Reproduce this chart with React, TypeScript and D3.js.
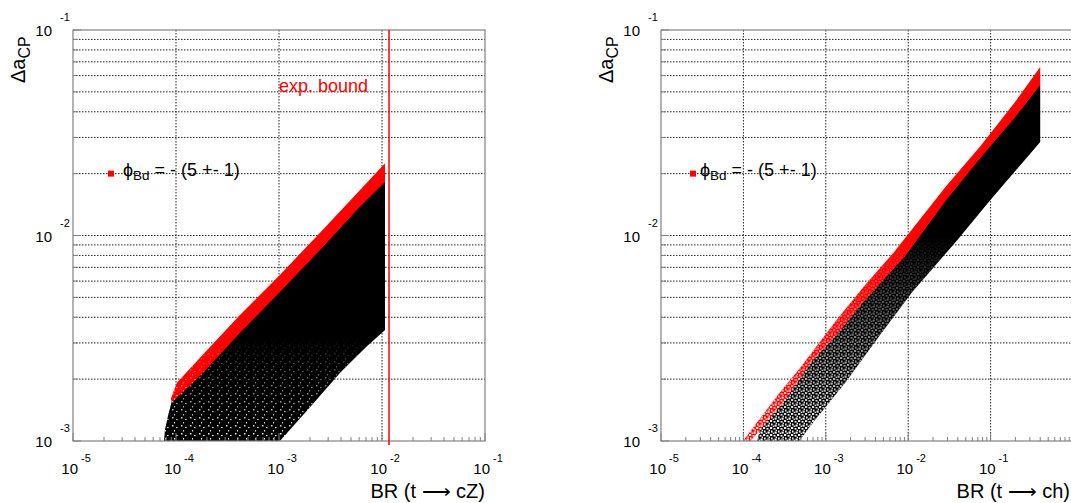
import React from 'react';
import * as d3 from 'd3';

type Pt = [number, number];

const W = 1071;
const H = 503;
const FONT = '"Liberation Sans", Arial, Helvetica, sans-serif';

// axis ranges
const Y_DOMAIN: Pt = [1e-3, 1e-1];
const LEFT_X_DOMAIN: Pt = [1e-5, 1e-1];
const RIGHT_X_DOMAIN: Pt = [1e-5, 1];

// t -> cZ : experimental bound on BR
const EXP_BOUND_CZ = 1.17e-2;
const EXP_LABEL_POS: Pt = [1e-3, 5e-2];

const LEGEND_SYMBOL = 'ϕ';
const LEGEND_SUB = 'Bd';
const LEGEND_REST = ' = - (5 +- 1)';

// envelopes: [BR, ΔaCP]
const LEFT_BLACK: Pt[] = [
  [7.65e-5, 1.0e-3], [7.8e-5, 1.13e-3], [8.4e-5, 1.34e-3], [9.15e-5, 1.58e-3],
  [1.71e-4, 2.12e-3], [4.18e-4, 3.45e-3], [1.02e-3, 5.45e-3], [2.5e-3, 8.7e-3],
  [6.1e-3, 1.42e-2], [1.07e-2, 1.87e-2], [1.07e-2, 3.47e-3], [7.0e-3, 2.87e-3],
  [3.9e-3, 2.14e-3], [2.0e-3, 1.46e-3], [1.02e-3, 1.0e-3],
];
const LEFT_RED_UPPER: Pt[] = [
  [8.9e-5, 1.6e-3], [1.02e-4, 1.92e-3], [1.71e-4, 2.54e-3], [4.18e-4, 4.1e-3],
  [1.02e-3, 6.43e-3], [2.5e-3, 1.03e-2], [6.1e-3, 1.66e-2], [1.07e-2, 2.25e-2],
];
const LEFT_RED_LOWER: Pt[] = [
  [9.15e-5, 1.55e-3], [1.71e-4, 2.07e-3], [4.18e-4, 3.36e-3], [1.02e-3, 5.31e-3],
  [2.5e-3, 8.5e-3], [6.1e-3, 1.38e-2], [1.07e-2, 1.82e-2],
];

const RIGHT_BLACK: Pt[] = [
  [1.47e-4, 1.0e-3], [1.6e-4, 1.15e-3], [3.1e-4, 1.57e-3], [6.65e-4, 2.43e-3],
  [1.42e-3, 3.4e-3], [3.0e-3, 4.9e-3], [9.2e-3, 8.05e-3], [2.9e-2, 1.51e-2],
  [7.5e-2, 2.41e-2], [0.195, 3.77e-2], [0.4, 5.45e-2], [0.4, 2.85e-2],
  [9.95e-2, 1.49e-2], [3.95e-2, 9.5e-3], [1.12e-2, 5.31e-3], [4.46e-3, 3.24e-3],
  [1.72e-3, 1.92e-3], [7.43e-4, 1.27e-3], [4.75e-4, 1.0e-3],
];
const RIGHT_RED_UPPER: Pt[] = [
  [9.9e-5, 1.0e-3], [1.6e-4, 1.29e-3], [2.8e-4, 1.73e-3], [4.9e-4, 2.27e-3],
  [1.3e-3, 3.8e-3], [3.0e-3, 5.74e-3], [6.6e-3, 8.22e-3], [2.9e-2, 1.74e-2],
  [7.5e-2, 2.72e-2], [0.195, 4.42e-2], [0.4, 6.6e-2],
];
const RIGHT_RED_LOWER: Pt[] = [
  [1.21e-4, 1.0e-3], [1.6e-4, 1.13e-3], [3.1e-4, 1.55e-3], [6.65e-4, 2.4e-3],
  [1.42e-3, 3.36e-3], [3.0e-3, 4.85e-3], [9.2e-3, 7.95e-3], [2.9e-2, 1.49e-2],
  [7.5e-2, 2.38e-2], [0.195, 3.73e-2], [0.4, 5.4e-2],
];

// the scatter thins out between these ΔaCP values (dense above, sparse at the bottom)
const LEFT_SPARSE: Pt = [3.2e-3, 1.0e-3];
const RIGHT_SPARSE: Pt = [1.0e-2, 1.0e-3];

const isDecade = (v: number) => Math.abs(Math.log10(v) - Math.round(Math.log10(v))) < 1e-9;

type PanelProps = {
  id: string;
  left: number;
  xDomain: Pt;
  black: Pt[];
  redUp: Pt[];
  redLow: Pt[];
  sparse: Pt;
  speck: 'light' | 'heavy';
  xTitle: string;
  legendDx: number;
  textDx: number;
  bound?: number;
};

const Panel = ({ id, left, xDomain, black, redUp, redLow, sparse, speck, xTitle, legendDx, textDx, bound }: PanelProps) => {
  const top = 30;
  const fw = 412;
  const fh = 411;
  const bottom = top + fh;
  const x = d3.scaleLog().domain(xDomain).range([left, left + fw]);
  const y = d3.scaleLog().domain(Y_DOMAIN).range([bottom, top]);
  const line = d3.line<Pt>().x((d) => x(d[0])).y((d) => y(d[1]));
  const blackPath = line(black) + 'Z';
  const redPath = line([...redUp, ...[...redLow].reverse()]) + 'Z';

  const xt = x.ticks();
  const yt = y.ticks();
  const gridColor = '#222';

  return (
    <g>
      <defs>
        <clipPath id={`${id}-frame`}>
          <rect x={left} y={top} width={fw} height={fh} />
        </clipPath>
        <linearGradient id={`${id}-fade`} gradientUnits='userSpaceOnUse' x1={0} x2={0} y1={y(sparse[0])} y2={y(sparse[1])}>
          <stop offset='0' stopColor='#000' />
          <stop offset='1' stopColor='#fff' />
        </linearGradient>
        <mask id={`${id}-mask`} maskUnits='userSpaceOnUse' x={left} y={top} width={fw} height={fh}>
          <rect x={left} y={top} width={fw} height={fh} fill={`url(#${id}-fade)`} />
        </mask>
        <pattern id={`${id}-light`} width={9} height={8} patternUnits='userSpaceOnUse'>
          <rect x={1} y={1} width={1.5} height={1.5} fill='#fff' />
          <rect x={5} y={3} width={1.6} height={1.1} fill='#fff' />
          <rect x={3} y={6} width={1.1} height={1.5} fill='#fff' />
        </pattern>
        <pattern id={`${id}-heavy`} width={7} height={7} patternUnits='userSpaceOnUse'>
          <rect x={0} y={0} width={2.2} height={2} fill='#fff' />
          <rect x={3.5} y={1} width={2} height={1.6} fill='#fff' />
          <rect x={1} y={3.5} width={1.6} height={2} fill='#fff' />
          <rect x={4.5} y={4.5} width={2.2} height={2.2} fill='#fff' />
          <rect x={2.6} y={5.6} width={1.5} height={1.4} fill='#fff' />
          <rect x={5.6} y={2.6} width={1.4} height={1.5} fill='#fff' />
        </pattern>
      </defs>

      {/* grid */}
      {yt.filter((t) => t > Y_DOMAIN[0] && t < Y_DOMAIN[1]).map((t, i) => (
        <line key={'gy' + i} x1={left} x2={left + fw} y1={y(t)} y2={y(t)}
          stroke={gridColor} strokeWidth={1} strokeDasharray='1.5 1.5' />
      ))}
      {xt.filter((t) => isDecade(t) && t > xDomain[0] && t < xDomain[1]).map((t, i) => (
        <line key={'gx' + i} x1={x(t)} x2={x(t)} y1={top} y2={bottom}
          stroke={gridColor} strokeWidth={1} strokeDasharray='1.5 1.5' />
      ))}

      {/* scatter envelopes */}
      <g clipPath={`url(#${id}-frame)`}>
        <path d={blackPath} fill='#000' />
        <path d={redPath} fill='#ff0000' />
        <g mask={`url(#${id}-mask)`}>
          <path d={blackPath} fill={`url(#${id}-${speck})`} />
          <path d={redPath} fill={`url(#${id}-${speck})`} />
        </g>
      </g>

      {/* frame */}
      <rect x={left} y={top} width={fw} height={fh} fill='none' stroke='#808080' strokeWidth={1.2} />

      {/* ticks */}
      {xt.map((t, i) => (
        <line key={'tx' + i} x1={x(t)} x2={x(t)} y1={bottom} y2={bottom - (isDecade(t) ? 8 : 4)}
          stroke='#808080' strokeWidth={1} />
      ))}
      {yt.map((t, i) => (
        <line key={'ty' + i} x1={left} x2={left + (isDecade(t) ? 8 : 5)} y1={y(t)} y2={y(t)}
          stroke='#808080' strokeWidth={1} />
      ))}

      {/* tick labels */}
      {xt.filter((t) => isDecade(t) && x(t) < W - 4).map((t, i) => (
        <g key={'lx' + i} fontFamily={FONT} fill='#000'>
          <text x={x(t) + 5} y={474} fontSize={15} textAnchor='end'>10</text>
          <text x={x(t) + 8} y={462} fontSize={11}>{Math.round(Math.log10(t))}</text>
        </g>
      ))}
      {yt.filter((t) => isDecade(t)).map((t, i) => (
        <g key={'ly' + i} fontFamily={FONT} fill='#000'>
          <text x={left - 21} y={y(t) + 6} fontSize={15} textAnchor='end'>10</text>
          <text x={left - 13} y={y(t) - 9} fontSize={11}>{Math.round(Math.log10(t))}</text>
        </g>
      ))}

      {/* axis titles */}
      <text x={Math.min(left + fw, W - 1)} y={498} fontSize={20} textAnchor='end' fontFamily={FONT}>
        {xTitle}
      </text>
      <text transform={`translate(${left - 48},83) rotate(-90)`} fontSize={20} fontFamily={FONT}>
        Δa<tspan fontSize={16} dy={5}>CP</tspan>
      </text>

      {/* legend */}
      <rect x={left + legendDx - 3} y={y(2e-2) - 3} width={6} height={6} fill='#ff0000' />
      <text x={left + textDx} y={175.5} fontSize={18} fontFamily={FONT} style={{ whiteSpace: 'pre' }}>
        {LEGEND_SYMBOL}
        <tspan fontSize={13.5} dy={4.5}>{LEGEND_SUB}</tspan>
        <tspan dy={-4.5}>{LEGEND_REST}</tspan>
      </text>

      {bound !== undefined && (
        <g>
          <line x1={x(bound)} x2={x(bound)} y1={y(Y_DOMAIN[1])} y2={bottom + 4} stroke='#ff0000' strokeWidth={1.5} />
          <text x={x(EXP_LABEL_POS[0])} y={y(EXP_LABEL_POS[1])} fontSize={18} fill='#ff0000' fontFamily={FONT}>
            exp. bound
          </text>
        </g>
      )}
    </g>
  );
};

const App = () => {
  return (
    <div style={{ position: 'absolute', left: 0, top: 0, background: '#fff' }}>
      <svg width={W} height={H} style={{ display: 'block' }}>
        <rect width={W} height={H} fill='#fff' />
        <Panel id='cz' left={73} xDomain={LEFT_X_DOMAIN} black={LEFT_BLACK} redUp={LEFT_RED_UPPER}
          redLow={LEFT_RED_LOWER} sparse={LEFT_SPARSE} speck='light' xTitle='BR (t ⟶ cZ)'
          legendDx={38} textDx={50} bound={EXP_BOUND_CZ} />
        <Panel id='ch' left={661} xDomain={RIGHT_X_DOMAIN} black={RIGHT_BLACK} redUp={RIGHT_RED_UPPER}
          redLow={RIGHT_RED_LOWER} sparse={RIGHT_SPARSE} speck='heavy' xTitle='BR (t ⟶ ch)'
          legendDx={32} textDx={39} />
      </svg>
    </div>
  );
};

export default App;
